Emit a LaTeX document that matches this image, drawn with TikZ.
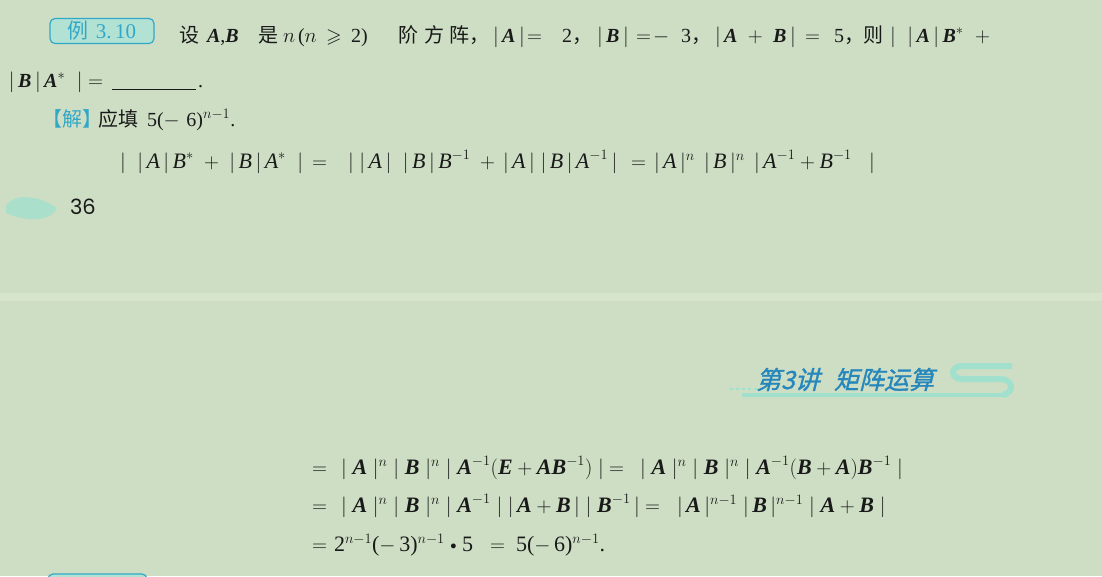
\documentclass[tikz,border=0pt]{standalone}
\usepackage{amsmath,amssymb,graphicx}
\usepackage{fontspec}
\setmainfont{Liberation Serif}
\newfontfamily\cjk{Noto Sans CJK SC}
\newfontfamily\cjkit[FakeSlant=0.25,FakeBold=1.2]{Noto Sans CJK SC}
\newfontfamily\numsans{Poppins}
\definecolor{bg}{RGB}{205,222,196}
\definecolor{strip}{RGB}{214,228,203}
\definecolor{cyantext}{RGB}{50,168,200}
\definecolor{boxfill}{RGB}{178,226,212}
\definecolor{headblue}{RGB}{38,135,188}
\definecolor{deco}{RGB}{160,224,205}
\definecolor{ink}{RGB}{25,25,25}
\newcommand\bA{\mbox{\bfseries\itshape A}}
\newcommand\bB{\mbox{\bfseries\itshape B}}
\newcommand\bE{\mbox{\bfseries\itshape E}}
\newcommand\iA{\mbox{\itshape A}}
\newcommand\iB{\mbox{\itshape B}}
\newcommand\cm{{\cjk ，}}
\begin{document}
\begin{tikzpicture}[x=1pt,y=-1pt,
  txt/.style={anchor=base west,inner sep=0pt,outer sep=0pt,text=ink,font=\fontsize{20}{24}\selectfont},
  bigtxt/.style={txt,font=\fontsize{22}{26}\selectfont},
  exbox/.style={draw=cyantext,fill=boxfill,line width=1.2pt,rounded corners=5pt,minimum width=104pt,minimum height=25pt,inner sep=0pt,text=cyantext,font=\fontsize{21}{24}\selectfont},
  headtxt/.style={txt,text=headblue,font=\cjkit\fontsize{25}{27}\selectfont}]
\useasboundingbox (0,0) rectangle (1102,576);
\clip (0,0) rectangle (1102,576);
\fill[bg] (0,0) rectangle (1102,576);
\fill[strip] (0,293) rectangle (1102,301);
% box
\node[exbox] (ex) at (102,31) {{\cjk 例}\,\,3.\,10};
% line 1
\node[txt] (a1) at (179,42) {\cjk 设};
\node[txt] (a2) at (207,42) {$\bA$,$\bB$};
\node[txt] (a3) at (258,42) {\cjk 是};
\node[txt] (a4) at (283,42) {$n$};
\node[txt] (a5) at (298,42) {($n$};
\node[txt] (a6) at (326,42) {$\geqslant$};
\node[txt] (a7) at (351,42) {2)};
\node[txt] (a8) at (398,42) {\cjk 阶};
\node[txt] (a9) at (424,42) {\cjk 方};
\node[txt] (a10) at (449,42) {\cjk 阵，};
\node[txt] (a11) at (493,42) {$|\,\bA\,|$};
\node[txt] (a12) at (527,42) {$=$};
\node[txt] (a13) at (562,42) {2\cm};
\node[txt] (a14) at (597,42) {$|\,\bB\,|$};
\node[txt] (a15) at (636,42) {$=\!-$};
\node[txt] (a16) at (681,42) {3\cm};
\node[txt] (a17) at (715,42) {$|\,\bA\;+\;\bB\,|$};
\node[txt] (a18) at (805,42) {$=$};
\node[txt] (a19) at (834,42) {5\cm};
\node[txt] (a20) at (863,42) {\cjk 则};
\node[txt] (a21) at (890,42) {$|\;\;|\,\bA\,|\,\bB^{*}\;\;+$};
% line 2
\node[txt] (b1) at (9,87) {$|\,\bB\,|\,\bA^{*}\;\;|$};
\node[txt] (b2) at (88,87) {$=$};
\coordinate (u1) at (112,89);
\coordinate (u2) at (196,89);
\draw[ink,line width=0.9pt] (u1) -- (u2);
\node[txt] (b3) at (198,87) {.};
% line 3
\node[txt,text=cyantext] (c1) at (42,126) {\cjk 【解】};
\node[txt] (c2) at (98,126) {\cjk 应填};
\node[txt] (c3) at (147,126) {5($-$\,\,6)$^{n-1}$.};
% line 4
\node[bigtxt] (d1) at (120,168) {$|\;\;|\,\iA\,|\,\iB^{*}\;+\;|\,\iB\,|\,\iA^{*}\;\;|$};
\node[bigtxt] (d2) at (312,168) {$=$};
\node[bigtxt] (d3) at (348,168) {$|\;|\,\iA\,|\;\;|\,\iB\,|\,\iB^{-1}$};
\node[bigtxt] (d4) at (480,168) {$+$};
\node[bigtxt] (d5) at (503,168) {$|\,\iA\,|\;|\,\iB\,|\,\iA^{-1}\,|$};
\node[bigtxt] (d6) at (631,168) {$=$};
\node[bigtxt] (d7) at (654,168) {$|\,\iA\,|^{n}\,\;|\,\iB\,|^{n}\,\;|\,\iA^{-1}+\iB^{-1}\;\;\;|$};
% page number
\fill[deco,opacity=0.8] (6,206) .. controls (14,192) and (40,196) .. (57,208) .. controls (50,223) and (24,221) .. (6,213) -- cycle;
\node[txt,font=\numsans\fontsize{21}{24}\selectfont] (pg) at (70,214) {36};
% header decoration
\draw[deco,line width=6pt] (1012,366) -- (962,366) .. controls (950,366) and (950,379) .. (962,379) -- (1000,379) .. controls (1014,379) and (1014,393) .. (1003,395);
\draw[deco,line width=4pt] (1008,395) -- (742,395);
\draw[deco,line width=2pt,dashed] (730,389) -- (768,389);
\node[headtxt] (h1) at (756,389) {第3讲};
\node[headtxt] (h2) at (834,389) {矩阵运算};
% line 5
\node[bigtxt] (e1) at (312,474) {$=$};
\node[bigtxt] (e2) at (341,474) {$|\;\bA\;|^{n}\;|\;\bB\;|^{n}\;|\;\bA^{-1}(\bE+\bA\bB^{-1})\;|$};
\node[bigtxt] (e3) at (609,474) {$=$};
\node[bigtxt] (e4) at (640,474) {$|\;\bA\;|^{n}\;|\;\bB\;|^{n}\;|\;\bA^{-1}(\bB+\bA)\bB^{-1}\;|$};
% line 6
\node[bigtxt] (f1) at (312,512) {$=$};
\node[bigtxt] (f2) at (341,512) {$|\;\bA\;|^{n}\;|\;\bB\;|^{n}\;|\;\bA^{-1}\;|\;|\,\bA+\bB\,|\;|\;\bB^{-1}\,|$};
\node[bigtxt] (f3) at (645,512) {$=$};
\node[bigtxt] (f4) at (677,512) {$|\,\bA\,|^{n-1}\;|\,\bB\,|^{n-1}\;|\;\bA+\bB\;|$};
% line 7
\node[bigtxt] (g1) at (312,551) {$=$};
\node[bigtxt] (g2) at (334,551) {2$^{n-1}$($-$\,3)$^{n-1}$ \raisebox{2pt}{\scalebox{0.6}{$\bullet$}} 5};
\node[bigtxt] (g3) at (490,551) {$=$};
\node[bigtxt] (g4) at (516,551) {5($-$\,6)$^{n-1}$.};
% next example box edge
\draw[draw=cyantext,fill=boxfill,line width=1.2pt,rounded corners=5pt] (48,574) rectangle (147,600);
\end{tikzpicture}
\end{document}
